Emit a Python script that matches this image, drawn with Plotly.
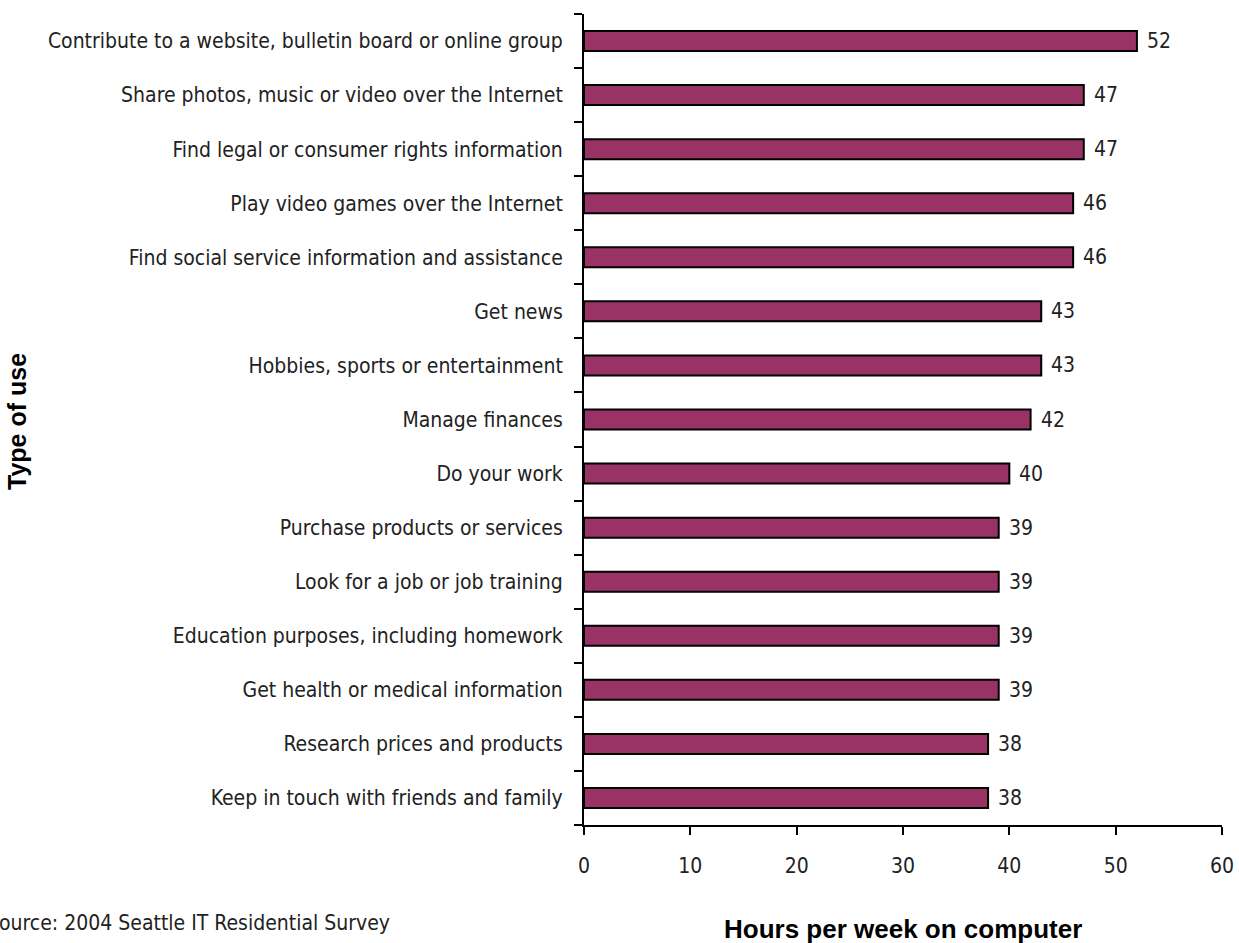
import plotly.graph_objects as go

# Data (top to bottom)
USES = [
    "Contribute to a website, bulletin board or online group",
    "Share photos, music or video over the Internet",
    "Find legal or consumer rights information",
    "Play video games over the Internet",
    "Find social service information and assistance",
    "Get news",
    "Hobbies, sports or entertainment",
    "Manage finances",
    "Do your work",
    "Purchase products or services",
    "Look for a job or job training",
    "Education purposes, including homework",
    "Get health or medical information",
    "Research prices and products",
    "Keep in touch with friends and family",
]
HOURS = [52, 47, 47, 46, 46, 43, 43, 42, 40, 39, 39, 39, 39, 38, 38]
X_TICKS = [0, 10, 20, 30, 40, 50, 60]

NARROW = "Liberation Sans Narrow, Arial Narrow, DejaVu Sans Condensed, sans-serif"
BOLD = "Liberation Sans, Arial, sans-serif"

W, H = 1239, 943
L, R, T, B = 584, 17, 14, 118
PW, PH = W - L - R, H - T - B

# plotly draws the first category at the bottom, so reverse
cats = USES[::-1]
vals = HOURS[::-1]

fig = go.Figure()
fig.add_trace(go.Bar(
    y=cats, x=vals, orientation="h",
    marker=dict(color="#993366", line=dict(color="black", width=2)),
    hoverinfo="skip",
))

# value labels just right of each bar
for c, v in zip(cats, vals):
    fig.add_annotation(x=v, y=c, text=str(v), showarrow=False,
                       xanchor="left", yanchor="middle", xshift=8,
                       font=dict(family=NARROW, size=21, color="#222"))

fig.update_layout(
    width=W, height=H,
    margin=dict(l=L, r=R, t=T, b=B),
    plot_bgcolor="white", paper_bgcolor="white",
    bargap=0.63, showlegend=False,
    font=dict(family=NARROW, size=21, color="#222"),
)
fig.update_xaxes(
    range=[0, 60], tickvals=X_TICKS, showgrid=False, zeroline=False,
    showline=True, linecolor="black", linewidth=2,
    ticks="outside", ticklen=8, tickwidth=2, tickcolor="black",
    ticklabelstandoff=13, automargin=False,
)
fig.update_yaxes(
    type="category", showgrid=False, zeroline=False,
    showline=True, linecolor="black", linewidth=2,
    ticks="outside", ticklen=8, tickwidth=2, tickcolor="black",
    tickson="boundaries", ticklabelstandoff=15, automargin=False,
)

fig.add_annotation(
    text="<b>Hours per week on computer</b>", xref="paper", yref="paper",
    x=0.5, y=(H - B - 929) / PH, xanchor="center", yanchor="middle",
    showarrow=False, font=dict(family=BOLD, size=26, color="black"),
)
fig.add_annotation(
    text="<b>Type of use</b>", xref="paper", yref="paper",
    x=(17 - L) / PW, y=(H - B - 422) / PH, textangle=-90,
    xanchor="center", yanchor="middle", showarrow=False,
    font=dict(family=BOLD, size=25, color="black"),
)
# the "S" runs off the left edge in the reference too
fig.add_annotation(
    text="Source: 2004 Seattle IT Residential Survey", xref="paper", yref="paper",
    x=(-15 - L) / PW, y=(H - B - 923) / PH, xanchor="left", yanchor="middle",
    showarrow=False, font=dict(family=NARROW, size=21, color="#222"),
)

# drop the page's default body margin so the figure sits at 0,0
fig.write_html("out.html", config={"displayModeBar": False},
               post_script="document.body.style.margin='0';")
